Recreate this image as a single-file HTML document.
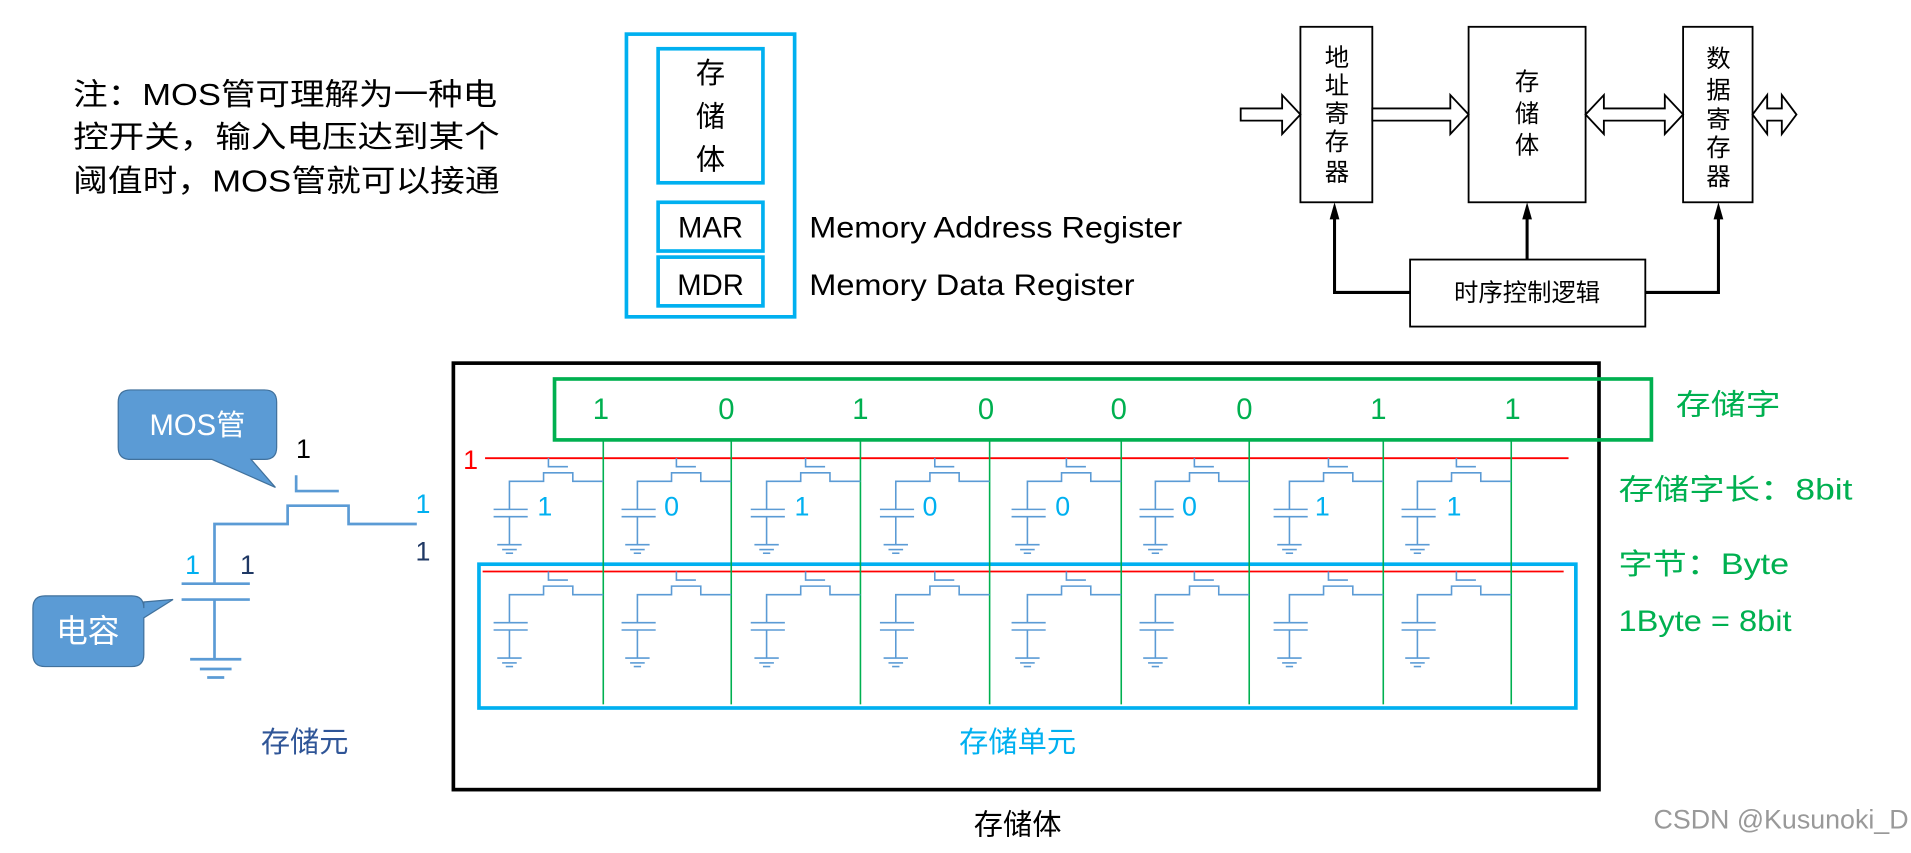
<!DOCTYPE html>
<html><head><meta charset="utf-8"><style>
html,body{margin:0;padding:0;background:#fff;}
svg{display:block;}
text{font-family:"Liberation Sans","Noto Sans CJK SC",sans-serif;}
.serif{font-family:"Noto Serif CJK SC","Liberation Serif",serif;}
</style></head><body>
<svg width="1911" height="853" viewBox="0 0 1568 700" preserveAspectRatio="none" xmlns="http://www.w3.org/2000/svg">
<rect width="1568" height="700" fill="#fff"/>
<g font-size="25" fill="#000">
<text x="60" y="86" textLength="348" lengthAdjust="spacingAndGlyphs">注：MOS管可理解为一种电</text>
<text x="60" y="121" textLength="350" lengthAdjust="spacingAndGlyphs">控开关，输入电压达到某个</text>
<text x="60" y="157" textLength="350" lengthAdjust="spacingAndGlyphs">阈值时，MOS管就可以接通</text>
</g>
<g fill="none" stroke="#00b0f0" stroke-width="3">
<rect x="514" y="28" width="138" height="232"/>
<rect x="540" y="40" width="86" height="110"/>
<rect x="540" y="166" width="86" height="40"/>
<rect x="540" y="211" width="86" height="40"/>
</g>
<g font-size="24" fill="#000" text-anchor="middle">
<text x="583" y="68">存</text><text x="583" y="104">储</text><text x="583" y="139">体</text>
<text x="583" y="195">MAR</text><text x="583" y="242">MDR</text>
</g>
<text x="664" y="195" font-size="24" textLength="306" lengthAdjust="spacingAndGlyphs">Memory Address Register</text>
<text x="664" y="242" font-size="24" textLength="267" lengthAdjust="spacingAndGlyphs">Memory Data Register</text>
<g fill="#fff" stroke="#000" stroke-width="1.5">
<rect x="1067" y="22" width="59" height="144"/>
<rect x="1205" y="22" width="96" height="144"/>
<rect x="1381" y="22" width="57" height="144"/>
<rect x="1157" y="213" width="193" height="55"/>
<polygon points="1018,89 1052,89 1052,78 1067,94 1052,110 1052,99 1018,99"/>
<polygon points="1126,89 1190,89 1190,78 1205,94 1190,110 1190,99 1126,99"/>
<polygon points="1301,94 1316,78 1316,89 1366,89 1366,78 1381,94 1366,110 1366,99 1316,99 1316,110"/>
<polygon points="1438,94 1450,78 1450,89 1462,89 1462,78 1474,94 1462,110 1462,99 1450,99 1450,110"/>
</g>
<g fill="none" stroke="#000" stroke-width="2.5">
<polyline points="1157,240 1095,240 1095,176"/>
<line x1="1253" y1="213" x2="1253" y2="176"/>
<polyline points="1350,240 1410,240 1410,176"/>
</g>
<g fill="#000">
<polygon points="1095,166 1091,180 1099,180"/>
<polygon points="1253,166 1249,180 1257,180"/>
<polygon points="1410,166 1406,180 1414,180"/>
</g>
<g class="serif" font-size="20" fill="#000" text-anchor="middle">
<text x="1097" y="54">地</text><text x="1097" y="77">址</text><text x="1097" y="100">寄</text><text x="1097" y="123">存</text><text x="1097" y="148">器</text>
<text x="1253" y="74">存</text><text x="1253" y="100">储</text><text x="1253" y="126">体</text>
<text x="1410" y="55">数</text><text x="1410" y="81">据</text><text x="1410" y="105">寄</text><text x="1410" y="128">存</text><text x="1410" y="152">器</text>
<text x="1253" y="247">时序控制逻辑</text>
</g>
<rect x="372" y="298" width="940" height="350" fill="none" stroke="#000" stroke-width="3"/>
<rect x="455" y="311" width="900" height="50" fill="none" stroke="#00b050" stroke-width="3"/>
<g font-size="24" fill="#00b050" text-anchor="middle">
<text x="493" y="344">1</text><text x="596" y="344">0</text><text x="706" y="344">1</text><text x="809" y="344">0</text>
<text x="918" y="344">0</text><text x="1021" y="344">0</text><text x="1131" y="344">1</text><text x="1241" y="344">1</text>
</g>
<g font-size="24" fill="#00b050">
<text x="1375" y="340" textLength="86" lengthAdjust="spacingAndGlyphs">存储字</text>
<text x="1328" y="410" textLength="192" lengthAdjust="spacingAndGlyphs">存储字长：8bit</text>
<text x="1328" y="471" textLength="140" lengthAdjust="spacingAndGlyphs">字节：Byte</text>
<text x="1328" y="518" textLength="142" lengthAdjust="spacingAndGlyphs">1Byte = 8bit</text>
</g>
<text x="380" y="385" font-size="22" fill="#ff0000">1</text>
<line x1="398" y1="376" x2="1287" y2="376" stroke="#ff0000" stroke-width="1.5"/>
<line x1="396" y1="469" x2="1283" y2="469" stroke="#ff0000" stroke-width="1.5"/>
<rect x="393" y="463" width="900" height="118" fill="none" stroke="#00b0f0" stroke-width="3"/>
<g stroke="#00b050" stroke-width="1.3">
<line x1="495" y1="361" x2="495" y2="578"/><line x1="600" y1="361" x2="600" y2="578"/>
<line x1="706" y1="361" x2="706" y2="578"/><line x1="812" y1="361" x2="812" y2="578"/>
<line x1="920" y1="361" x2="920" y2="578"/><line x1="1025" y1="361" x2="1025" y2="578"/>
<line x1="1135" y1="361" x2="1135" y2="578"/><line x1="1240" y1="361" x2="1240" y2="578"/>
</g>
<defs>
<g id="cell" fill="none" stroke="#5b9bd5" stroke-width="1.3">
<polyline points="-45,0 -45,7 -29,7"/>
<polyline points="0,19 -25,19 -25,12 -49,12 -49,19 -77,19 -77,42"/>
<line x1="-90" y1="42" x2="-62" y2="42"/><line x1="-90" y1="48" x2="-62" y2="48"/>
<line x1="-77" y1="48" x2="-77" y2="71"/>
<line x1="-87" y1="71" x2="-67" y2="71"/><line x1="-83" y1="75" x2="-71" y2="75"/><line x1="-80" y1="78" x2="-74" y2="78"/>
</g>
</defs>
<g>
<use href="#cell" x="495" y="376"/><use href="#cell" x="600" y="376"/><use href="#cell" x="706" y="376"/><use href="#cell" x="812" y="376"/>
<use href="#cell" x="920" y="376"/><use href="#cell" x="1025" y="376"/><use href="#cell" x="1135" y="376"/><use href="#cell" x="1240" y="376"/>
<use href="#cell" x="495" y="469"/><use href="#cell" x="600" y="469"/><use href="#cell" x="706" y="469"/><use href="#cell" x="812" y="469"/>
<use href="#cell" x="920" y="469"/><use href="#cell" x="1025" y="469"/><use href="#cell" x="1135" y="469"/><use href="#cell" x="1240" y="469"/>
</g>
<g font-size="22" fill="#00b0f0" text-anchor="middle">
<text x="447" y="423">1</text><text x="551" y="423">0</text><text x="658" y="423">1</text><text x="763" y="423">0</text>
<text x="872" y="423">0</text><text x="976" y="423">0</text><text x="1085" y="423">1</text><text x="1193" y="423">1</text>
</g>
<path d="M107,320 H217 Q227,320 227,330 V367 Q227,377 217,377 H206 L226,400 L174,377 H107 Q97,377 97,367 V330 Q97,320 107,320 Z" fill="#5b9bd5" stroke="#41719c" stroke-width="1"/>
<text x="162" y="357" font-size="24" fill="#fff" text-anchor="middle">MOS管</text>
<path d="M37,489 H108 Q118,489 118,499 V494 L142,492 L118,507 V537 Q118,547 108,547 H37 Q27,547 27,537 V499 Q27,489 37,489 Z" fill="#5b9bd5" stroke="#41719c" stroke-width="1"/>
<text x="72" y="527" font-size="26" fill="#fff" text-anchor="middle">电容</text>
<text x="249" y="376" font-size="22" fill="#000" text-anchor="middle">1</text>
<g fill="none" stroke="#5b9bd5" stroke-width="2.2">
<polyline points="243,390 243,403 278,403"/>
<polyline points="342,430 286,430 286,415 236,415 236,430 176,430 176,479"/>
<line x1="149" y1="479" x2="205" y2="479"/><line x1="149" y1="492" x2="205" y2="492"/>
<line x1="176" y1="492" x2="176" y2="541"/>
<line x1="156" y1="541" x2="198" y2="541"/><line x1="164" y1="549" x2="190" y2="549"/><line x1="170" y1="556" x2="184" y2="556"/>
</g>
<text x="347" y="421" font-size="22" fill="#00b0f0" text-anchor="middle">1</text>
<text x="347" y="460" font-size="22" fill="#1f3864" text-anchor="middle">1</text>
<text x="158" y="471" font-size="22" fill="#00b0f0" text-anchor="middle">1</text>
<text x="203" y="471" font-size="22" fill="#1f3864" text-anchor="middle">1</text>
<text x="250" y="617" font-size="24" fill="#2f5597" text-anchor="middle">存储元</text>
<text x="835" y="617" font-size="24" fill="#00b0f0" text-anchor="middle">存储单元</text>
<text x="835" y="685" font-size="24" fill="#000" text-anchor="middle">存储体</text>
<text x="1566" y="680" font-size="22" fill="#999" text-anchor="end">CSDN @Kusunoki_D</text>
</svg>
</body></html>
